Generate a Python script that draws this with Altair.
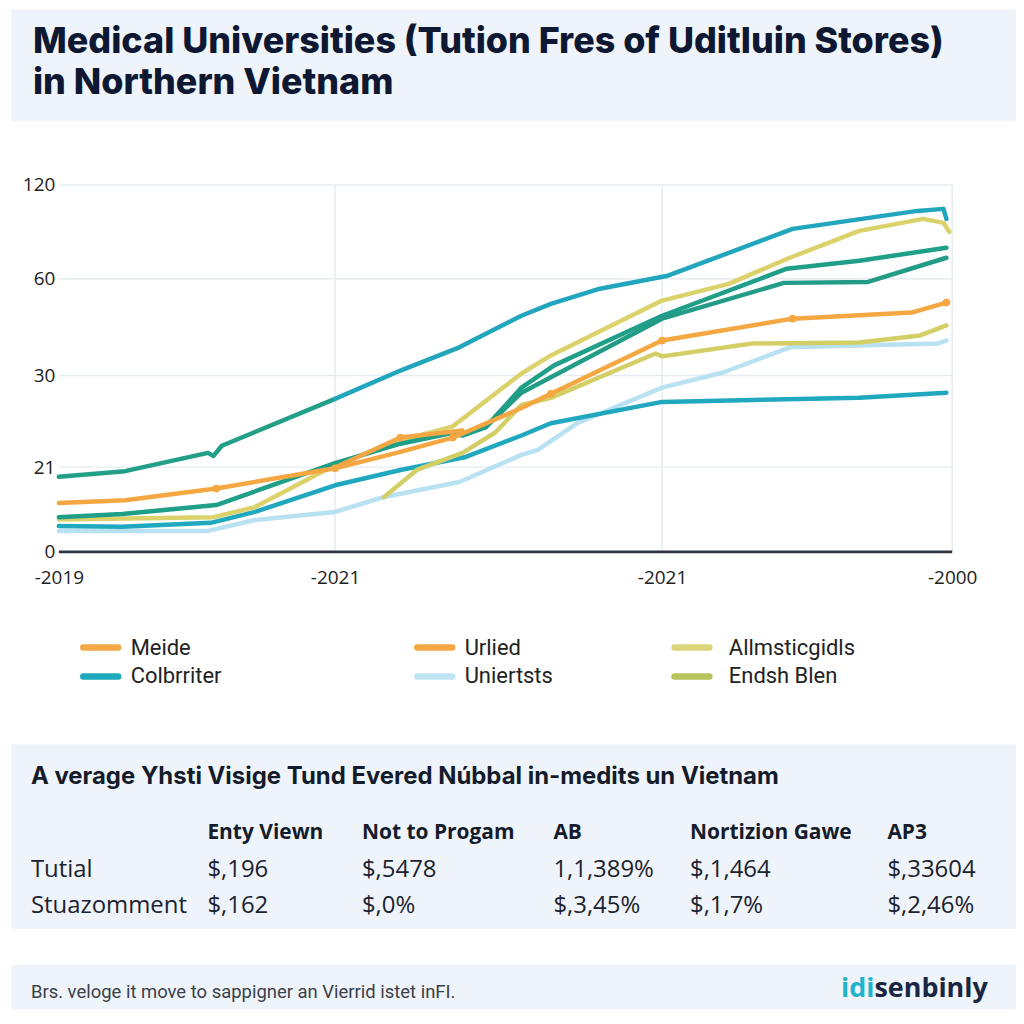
import altair as alt
import pandas as pd

# ---------------- data ----------------
TITLE_LINES = ["Medical Universities (Tution Fres of Uditluin Stores)", "in Northern Vietnam"]

X_TICKS = [0, 1, 2, 3]
X_LABELS = ["-2019", "-2021", "-2021", "-2000"]
Y_TICKS = [0, 21, 30, 60, 120]

# top line (green part, then teal part)
TOP_EARLY_X = [0.0, 0.24, 0.54, 0.56, 0.59, 1.0]
TOP_EARLY_Y = [18.6, 20.0, 22.4, 22.1, 23.1, 27.7]
TOP_LATE_X = [1.0, 1.20, 1.38, 1.57, 1.66, 1.81, 2.02, 2.45, 2.88, 2.97, 2.98]
TOP_LATE_Y = [27.7, 31.5, 38.7, 48.5, 52.2, 56.9, 61.9, 91.9, 103.4, 104.7, 98.3]

MEIDE_X = [0.0, 0.24, 0.57, 0.85, 1.0, 1.20, 1.36, 1.39, 1.57, 1.66, 2.0, 2.45, 2.86, 2.98]
MEIDE_Y = [12.1, 12.8, 15.7, 19.0, 20.7, 22.5, 23.9, 24.3, 26.8, 28.2, 40.8, 47.6, 49.5, 52.6]

URLIED_X = [1.0, 1.20, 1.39]
URLIED_Y = [20.9, 23.9, 24.6]

GREEN1_X = [0.0, 0.23, 0.57, 1.0, 1.20, 1.35, 1.39, 1.46, 1.57, 1.67, 2.0, 2.43, 2.68, 2.98]
GREEN1_Y = [8.6, 9.4, 11.6, 21.4, 23.3, 24.3, 24.1, 24.9, 28.8, 33.1, 48.5, 66.4, 71.5, 79.8]
GREEN2_X = [1.46, 1.57, 2.0, 2.42, 2.71, 2.98]
GREEN2_Y = [24.9, 28.3, 47.6, 58.7, 59.0, 73.4]

ALLM_X = [0.0, 0.56, 0.71, 1.0, 1.20, 1.36, 1.57, 1.66, 2.0, 2.23, 2.44, 2.68, 2.90, 2.97, 2.99]
ALLM_Y = [8.0, 8.6, 11.1, 21.2, 23.6, 25.0, 30.6, 36.2, 53.2, 58.4, 73.4, 90.6, 98.3, 95.7, 90.0]

ENDSH_X = [1.15, 1.25, 1.39, 1.49, 1.57, 1.66, 1.98, 2.0, 2.31, 2.68, 2.89, 2.98]
ENDSH_Y = [13.6, 20.3, 22.4, 24.4, 27.1, 27.8, 36.8, 35.9, 39.9, 40.2, 42.4, 45.5]

UNIER_X = [0.0, 0.54, 0.71, 1.0, 1.15, 1.38, 1.57, 1.62, 1.74, 2.0, 2.21, 2.44, 2.68, 2.95, 2.98]
UNIER_Y = [5.2, 5.2, 7.9, 9.9, 13.6, 17.3, 22.2, 22.7, 25.3, 28.8, 30.9, 38.7, 39.3, 39.9, 40.8]

COLB_X = [0.0, 0.23, 0.55, 0.71, 1.0, 1.20, 1.40, 1.57, 1.66, 2.0, 2.68, 2.98]
COLB_Y = [6.4, 6.2, 7.2, 9.9, 16.5, 20.3, 22.0, 24.1, 25.3, 27.4, 27.8, 28.3]

MARK_X = [0.57, 1.0, 1.20, 1.36, 1.66, 2.0, 2.45, 2.98]
MARK_Y = [15.7, 20.7, 23.9, 23.9, 28.2, 40.8, 47.6, 52.6]

SERIES_NAMES = ["Uniertsts", "Colbrriter", "Endsh Blen", "Allmsticgidls", "Green 1", "Green 2",
                "Meide", "Urlied", "Top early", "Top late"]
SERIES_COLORS = ["#b8e1f2", "#20a8bf", "#d3cf66", "#dbd26b", "#1f9e88", "#229c86",
                 "#f5a742", "#f4a644", "#229f87", "#22a6bd"]

LEG_LABELS = ["Meide", "Urlied", "Allmsticgidls", "Colbrriter", "Uniertsts", "Endsh Blen"]
LEG_COLORS = ["#f5a946", "#f4a843", "#dcd57a", "#1ea9bb", "#bfe4f3", "#b6c25a"]
LEG_COL = [0, 1, 2, 0, 1, 2]
LEG_ROW = [0, 0, 0, 1, 1, 1]

TABLE_TITLE = "A verage Yhsti Visige Tund Evered Núbbal in-medits un Vietnam"
TABLE_HEADERS = ["Enty Viewn", "Not to Progam", "AB", "Nortizion Gawe", "AP3"]
ROW_LABELS = ["Tutial", "Stuazomment"]
ROW1 = ["$,196", "$,5478", "1,1,389%", "$,1,464", "$,33604"]
ROW2 = ["$,162", "$,0%", "$,3,45%", "$,1,7%", "$,2,46%"]

FOOTER_TEXT = "Brs. veloge it move to sappigner an Vierrid istet inFI."
BRAND_A = "idi"
BRAND_B = "senbinly"

# ---------------- styling ----------------
W = 1008
BAND = "#eef4f9"
FONT = "Roboto"
AXFONT = "Open Sans"
TXT = "#222222"
GRID = "#e5ecf1"

# ---------------- line chart ----------------
def sdf(name, xs, ys):
    return pd.DataFrame({"series": name, "x": xs, "y": ys, "i": list(range(len(xs)))})

lines_df = pd.concat([
    sdf("Uniertsts", UNIER_X, UNIER_Y),
    sdf("Colbrriter", COLB_X, COLB_Y),
    sdf("Endsh Blen", ENDSH_X, ENDSH_Y),
    sdf("Allmsticgidls", ALLM_X, ALLM_Y),
    sdf("Green 1", GREEN1_X, GREEN1_Y),
    sdf("Green 2", GREEN2_X, GREEN2_Y),
    sdf("Meide", MEIDE_X, MEIDE_Y),
    sdf("Urlied", URLIED_X, URLIED_Y),
    sdf("Top early", TOP_EARLY_X, TOP_EARLY_Y),
    sdf("Top late", TOP_LATE_X, TOP_LATE_Y),
], ignore_index=True)

xscale = alt.Scale(domain=X_TICKS, range=[48, 325, 653, 944], nice=False, zero=False)
yscale = alt.Scale(domain=Y_TICKS, range=[432, 347, 255, 158, 64], nice=False, zero=False)

label_expr = "[" + ",".join("'%s'" % l for l in X_LABELS) + "][datum.value]"
xaxis = alt.Axis(values=X_TICKS, labelExpr=label_expr, title=None, domain=False, ticks=False,
                 grid=False, offset=-48, labelPadding=17, labelFont=AXFONT, labelFontSize=19,
                 labelColor=TXT, labelFlush=False, labelOverlap=False)
yaxis = alt.Axis(values=Y_TICKS, title=None, domain=False, ticks=False, grid=False, offset=-51,
                 labelPadding=7, labelFont=AXFONT, labelFontSize=19, labelColor=TXT,
                 labelOverlap=False)

X = lambda: alt.X("x:Q", scale=xscale, axis=xaxis)
Y = lambda: alt.Y("y:Q", scale=yscale, axis=yaxis)

hgrid_df = pd.DataFrame({"y": Y_TICKS[1:], "x": X_TICKS[0], "x2": X_TICKS[-1]})
vgrid_df = pd.DataFrame({"x": X_TICKS[1:], "y": Y_TICKS[0], "y2": Y_TICKS[-1]})
base_df = pd.DataFrame({"y": [Y_TICKS[0]], "x": [X_TICKS[0]], "x2": [X_TICKS[-1]]})
mark_df = pd.DataFrame({"x": MARK_X, "y": MARK_Y})

hgrid = alt.Chart(hgrid_df).mark_rule(color=GRID, strokeWidth=1.5).encode(x=X(), x2="x2:Q", y=Y())
vgrid = alt.Chart(vgrid_df).mark_rule(color=GRID, strokeWidth=1.5).encode(x=X(), y=Y(), y2="y2:Q")
base = alt.Chart(base_df).mark_rule(color="#2e3541", strokeWidth=3).encode(x=X(), x2="x2:Q", y=Y())
lines = alt.Chart(lines_df).mark_line(strokeWidth=4.5, strokeCap="round", strokeJoin="round").encode(
    x=X(), y=Y(),
    color=alt.Color("series:N", scale=alt.Scale(domain=SERIES_NAMES, range=SERIES_COLORS), legend=None),
    order=alt.Order("i:Q"),
)
marks = alt.Chart(mark_df).mark_circle(size=60, color="#f5a742", opacity=1).encode(x=X(), y=Y())

line_panel = alt.layer(vgrid, hgrid, base, lines, marks).properties(width=W, height=480)

# ---------------- title panel ----------------
title_df = pd.DataFrame({"t": TITLE_LINES, "r": list(range(len(TITLE_LINES)))})
title_panel = alt.Chart(title_df).mark_text(
    align="left", baseline="alphabetic", font="Inter", fontSize=36, fontWeight=800, color="#0f1833"
).encode(
    x=alt.value(22),
    y=alt.Y("r:Q", scale=alt.Scale(domain=[0, 1], range=[44, 85]), axis=None),
    text="t:N",
).properties(width=W, height=112, view=alt.ViewBackground(fill=BAND, strokeWidth=0))

# ---------------- legend panel ----------------
leg_df = pd.DataFrame({"label": LEG_LABELS, "color": LEG_COLORS, "col": LEG_COL, "row": LEG_ROW})
lx = alt.Scale(domain=[0, 1, 2], range=[90, 425, 683])
ly = alt.Scale(domain=[0, 1], range=[48, 77])
LX = lambda: alt.X("col:Q", scale=lx, axis=None)
LY = lambda: alt.Y("row:Q", scale=ly, axis=None)
leg_sym = alt.Chart(leg_df).mark_point(shape="stroke", size=1225, strokeWidth=6.5, strokeCap="round",
                                       filled=False, opacity=1).encode(
    x=LX(), y=LY(), stroke=alt.Color("color:N", scale=None))
leg_txt12 = alt.Chart(leg_df).transform_filter("datum.col < 2").mark_text(
    align="left", baseline="middle", dx=30, font=FONT, fontSize=22, color=TXT).encode(
    x=LX(), y=LY(), text="label:N")
leg_txt3 = alt.Chart(leg_df).transform_filter("datum.col == 2").mark_text(
    align="left", baseline="middle", dx=37, font=FONT, fontSize=22, color=TXT).encode(
    x=LX(), y=LY(), text="label:N")
legend_panel = alt.layer(leg_sym, leg_txt12, leg_txt3).properties(width=W, height=145)

# ---------------- table panel ----------------
tx = alt.Scale(domain=[0, 1, 2, 3, 4, 5], range=[20, 197, 352, 544, 681, 879])
ty = alt.Scale(domain=[0, 1, 2, 3], range=[40, 95, 133, 169])
TX = lambda: alt.X("c:Q", scale=tx, axis=None)
TY = lambda: alt.Y("r:Q", scale=ty, axis=None)

ttl_df = pd.DataFrame({"t": [TABLE_TITLE], "c": [0], "r": [0]})
hdr_df = pd.DataFrame({"t": TABLE_HEADERS, "c": list(range(1, 6)), "r": [1] * 5})
cells = []
for ri, (lab, vals) in enumerate(zip(ROW_LABELS, [ROW1, ROW2])):
    cells.append({"t": lab, "c": 0, "r": ri + 2})
    for ci, v in enumerate(vals):
        cells.append({"t": v, "c": ci + 1, "r": ri + 2})
cell_df = pd.DataFrame(cells)

t_title = alt.Chart(ttl_df).mark_text(align="left", baseline="alphabetic", font="Inter", fontSize=24,
                                      fontWeight="bold", color="#141b2b").encode(x=TX(), y=TY(), text="t:N")
t_hdr = alt.Chart(hdr_df).mark_text(align="left", baseline="alphabetic", font="Open Sans", fontSize=21,
                                    fontWeight="bold", color="#141b2b").encode(x=TX(), y=TY(), text="t:N")
t_cell = alt.Chart(cell_df).mark_text(align="left", baseline="alphabetic", font="Open Sans", fontSize=24,
                                      color="#1c2230").encode(x=TX(), y=TY(), text="t:N")
table_panel = alt.layer(t_title, t_hdr, t_cell).properties(
    width=W, height=185, view=alt.ViewBackground(fill=BAND, strokeWidth=0))

# ---------------- spacer + footer ----------------
spacer = alt.Chart(pd.DataFrame({"v": [0]})).mark_point(opacity=0).encode(
    x=alt.value(0), y=alt.value(0)).properties(width=W, height=33)

foot_df = pd.DataFrame({"t": [FOOTER_TEXT]})
f_txt = alt.Chart(foot_df).mark_text(align="left", baseline="middle", font=FONT, fontSize=18.5,
                                     color="#3a3f4a").encode(x=alt.value(20), y=alt.value(27), text="t:N")
brand_df = pd.DataFrame({"a": [BRAND_A], "b": [BRAND_B]})
f_a = alt.Chart(brand_df).mark_text(align="right", baseline="middle", font="Open Sans", fontSize=27,
                                    fontWeight="bold", color="#1fb4cc").encode(
    x=alt.value(866), y=alt.value(24), text="a:N")
f_b = alt.Chart(brand_df).mark_text(align="left", baseline="middle", font="Open Sans", fontSize=27,
                                    fontWeight="bold", color="#1a2744").encode(
    x=alt.value(866), y=alt.value(24), text="b:N")
footer_panel = alt.layer(f_txt, f_a, f_b).properties(
    width=W, height=45, view=alt.ViewBackground(fill=BAND, strokeWidth=0))

chart = alt.vconcat(title_panel, line_panel, legend_panel, table_panel, spacer, footer_panel,
                    spacing=0).properties(padding=0, background="white").configure_view(strokeWidth=0)

chart.save("out.html", embed_options={"renderer": "svg", "actions": False})
